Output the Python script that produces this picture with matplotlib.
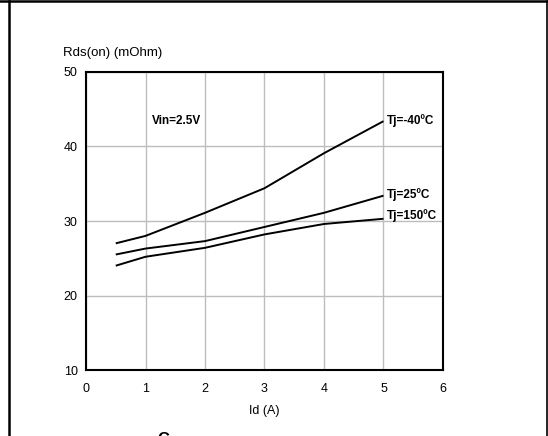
import matplotlib
matplotlib.use("Agg")
import matplotlib.pyplot as plt
from matplotlib.lines import Line2D

plt.rcParams['font.family'] = ['Liberation Sans', 'DejaVu Sans']

id_a = [0.5, 1, 2, 3, 4, 5]
r_m40 = [27.0, 28.0, 31.1, 34.4, 39.1, 43.4]
r_25 = [25.5, 26.3, 27.3, 29.2, 31.1, 33.4]
r_150 = [24.0, 25.2, 26.4, 28.2, 29.6, 30.3]
series = [("Tj=-40ºC", r_m40, 43.55), ("Tj=25ºC", r_25, 33.5), ("Tj=150ºC", r_150, 30.7)]
x_ticks = [0, 1, 2, 3, 4, 5, 6]
y_ticks = [10, 20, 30, 40, 50]

W, H = 548, 436
fig = plt.figure(figsize=(W / 100, H / 100), dpi=100)
ax = fig.add_axes([86 / W, 1 - 370 / H, 357 / W, 298 / H])

for label, vals, ly in series:
    ax.plot(id_a, vals, color='black', lw=1.4, solid_capstyle='butt')
    ax.text(id_a[-1] + 0.06, ly, label, fontsize=8.5, fontweight='bold',
            ha='left', va='center')

ax.text(1.1, 43.4, "Vin=2.5V", fontsize=8.5, fontweight='bold', ha='left', va='center')

ax.set_xlim(0, 6)
ax.set_ylim(10, 50)
ax.set_xticks(x_ticks)
ax.set_yticks(y_ticks)
ax.grid(True, color='#bdbdbd', lw=1.0)
ax.set_axisbelow(True)
ax.tick_params(length=0, labelsize=9)
ax.tick_params(axis='x', pad=9)
ax.tick_params(axis='y', pad=6)
for s in ax.spines.values():
    s.set_linewidth(1.5)
    s.set_color('black')
ax.set_xlabel("Id (A)", fontsize=9, va='center')
ax.xaxis.set_label_coords(0.5, -41 / 298)
fig.text(63 / W, 1 - 53 / H, "Rds(on) (mOhm)", fontsize=9.5, ha='left', va='center')

# outer frame
fig.add_artist(Line2D([0, 1], [1 - 1.5 / H, 1 - 1.5 / H], color='black', lw=1.8, transform=fig.transFigure))
fig.add_artist(Line2D([8.5 / W, 8.5 / W], [0, 1 - 1.5 / H], color='black', lw=1.8, transform=fig.transFigure))
fig.add_artist(Line2D([546.5 / W, 546.5 / W], [0, 1 - 1.5 / H], color='black', lw=1.2, transform=fig.transFigure))

fig.text(163 / W, 1 - 432 / H, "C", fontsize=12, fontweight='bold', ha='center', va='top')

fig.savefig("out.png", dpi=100)
